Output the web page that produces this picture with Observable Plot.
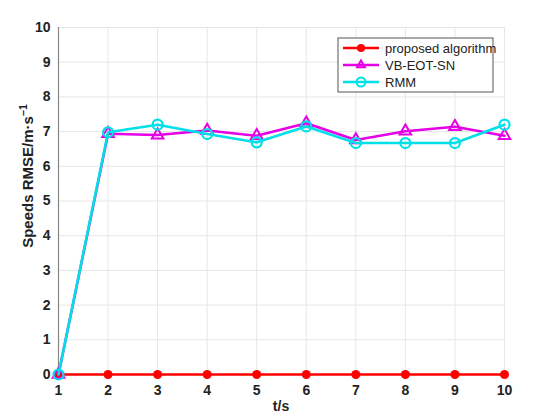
<!DOCTYPE html>
<html><head><meta charset="utf-8">
<script src="https://cdn.jsdelivr.net/npm/d3@7"></script>
<script src="https://cdn.jsdelivr.net/npm/@observablehq/plot@0.6"></script>
<style>
html,body{margin:0;padding:0;background:#ffffff;}
svg{font-family:"Liberation Sans",Arial,sans-serif;}
</style>
</head><body>
<div id="chart"></div>
<script>
const times = [1,2,3,4,5,6,7,8,9,10];
const proposed = [0,0,0,0,0,0,0,0,0,0];
const vbeotsn = [0,6.94,6.90,7.03,6.88,7.24,6.76,7.01,7.14,6.88];
const rmm = [0,6.98,7.20,6.93,6.69,7.15,6.67,6.67,6.67,7.20];
const seriesNames = ["proposed algorithm","VB-EOT-SN","RMM"];
const colors = ["#ff0000","#e600e6","#00e0e8"];
const xTicks = [1,2,3,4,5,6,7,8,9,10];
const yTicks = [0,1,2,3,4,5,6,7,8,9,10];

const mk = (vals) => times.map((t,i)=>({t, v: vals[i]}));
const dP = mk(proposed), dV = mk(vbeotsn), dR = mk(rmm);

const plot = Plot.plot({
  width: 550, height: 416,
  marginLeft: 58, marginRight: 46, marginTop: 27, marginBottom: 42,
  style: {fontFamily: '"Liberation Sans", Arial, sans-serif', background: "transparent"},
  x: {domain: [1,10], ticks: xTicks, label: null},
  y: {domain: [0,10], ticks: yTicks, label: null},
  marks: [
    Plot.gridX(xTicks, {stroke: "#e6e6e6", strokeOpacity: 1}),
    Plot.gridY(yTicks, {stroke: "#e6e6e6", strokeOpacity: 1}),
    Plot.ruleX([1], {stroke: "#888", strokeWidth: 1.2}),
    Plot.ruleY([0], {stroke: "#888", strokeWidth: 1.2}),
    Plot.axisX({ticks: xTicks, tickSize: 0, tickPadding: 11, fontSize: 14, fontWeight: "bold", fill: "#222"}),
    Plot.axisY({ticks: yTicks, tickSize: 0, tickPadding: 8, fontSize: 14, fontWeight: "bold", fill: "#222"}),
    Plot.lineY(dP, {x: "t", y: "v", stroke: colors[0], strokeWidth: 2.6}),
    Plot.dot(dP, {x: "t", y: "v", fill: colors[0], r: 4.5}),
    Plot.lineY(dV, {x: "t", y: "v", stroke: colors[1], strokeWidth: 2.6}),
    Plot.dot(dV, {x: "t", y: "v", symbol: "triangle", stroke: colors[1], strokeWidth: 2, fill: "none", r: 4.3}),
    Plot.lineY(dR, {x: "t", y: "v", stroke: colors[2], strokeWidth: 2.6}),
    Plot.dot(dR, {x: "t", y: "v", stroke: colors[2], strokeWidth: 2.2, fill: "none", r: 5})
  ]
});
document.getElementById("chart").appendChild(plot);

const svg = d3.select(plot);
// x label
svg.append("text").attr("x", 281).attr("y", 411).attr("text-anchor","middle")
  .attr("font-size", 14).attr("font-weight","bold").attr("fill","#222").text("t/s");
// y label with superscript
const yl = svg.append("text").attr("transform","translate(33,176) rotate(-90)")
  .attr("text-anchor","middle").attr("font-size",15).attr("font-weight","bold").attr("fill","#222");
yl.append("tspan").text("Speeds RMSE/m·s");
yl.append("tspan").attr("dy",-6).attr("font-size",10.5).text("−1");

// legend
const lg = svg.append("g").attr("transform","translate(338,38)");
lg.append("rect").attr("width",155).attr("height",54).attr("fill","#fff").attr("stroke","#555").attr("stroke-width",1);
seriesNames.forEach((name,i)=>{
  const y = 10 + i*17;
  const g = lg.append("g").attr("transform",`translate(0,${y})`);
  g.append("line").attr("x1",5).attr("x2",41).attr("y1",0).attr("y2",0).attr("stroke",colors[i]).attr("stroke-width",2.4);
  if (i===0) g.append("circle").attr("cx",23).attr("cy",0).attr("r",4).attr("fill",colors[i]);
  if (i===1) g.append("path").attr("d", d3.symbol(d3.symbolTriangle2, 45)()).attr("transform","translate(23,0)").attr("fill","none").attr("stroke",colors[i]).attr("stroke-width",2);
  if (i===2) g.append("circle").attr("cx",23).attr("cy",0).attr("r",4.5).attr("fill","none").attr("stroke",colors[i]).attr("stroke-width",2);
  g.append("text").attr("x",47).attr("y",4.5).attr("text-anchor","start").attr("font-size",13).attr("fill","#222").text(name);
});
</script>
</body></html>
